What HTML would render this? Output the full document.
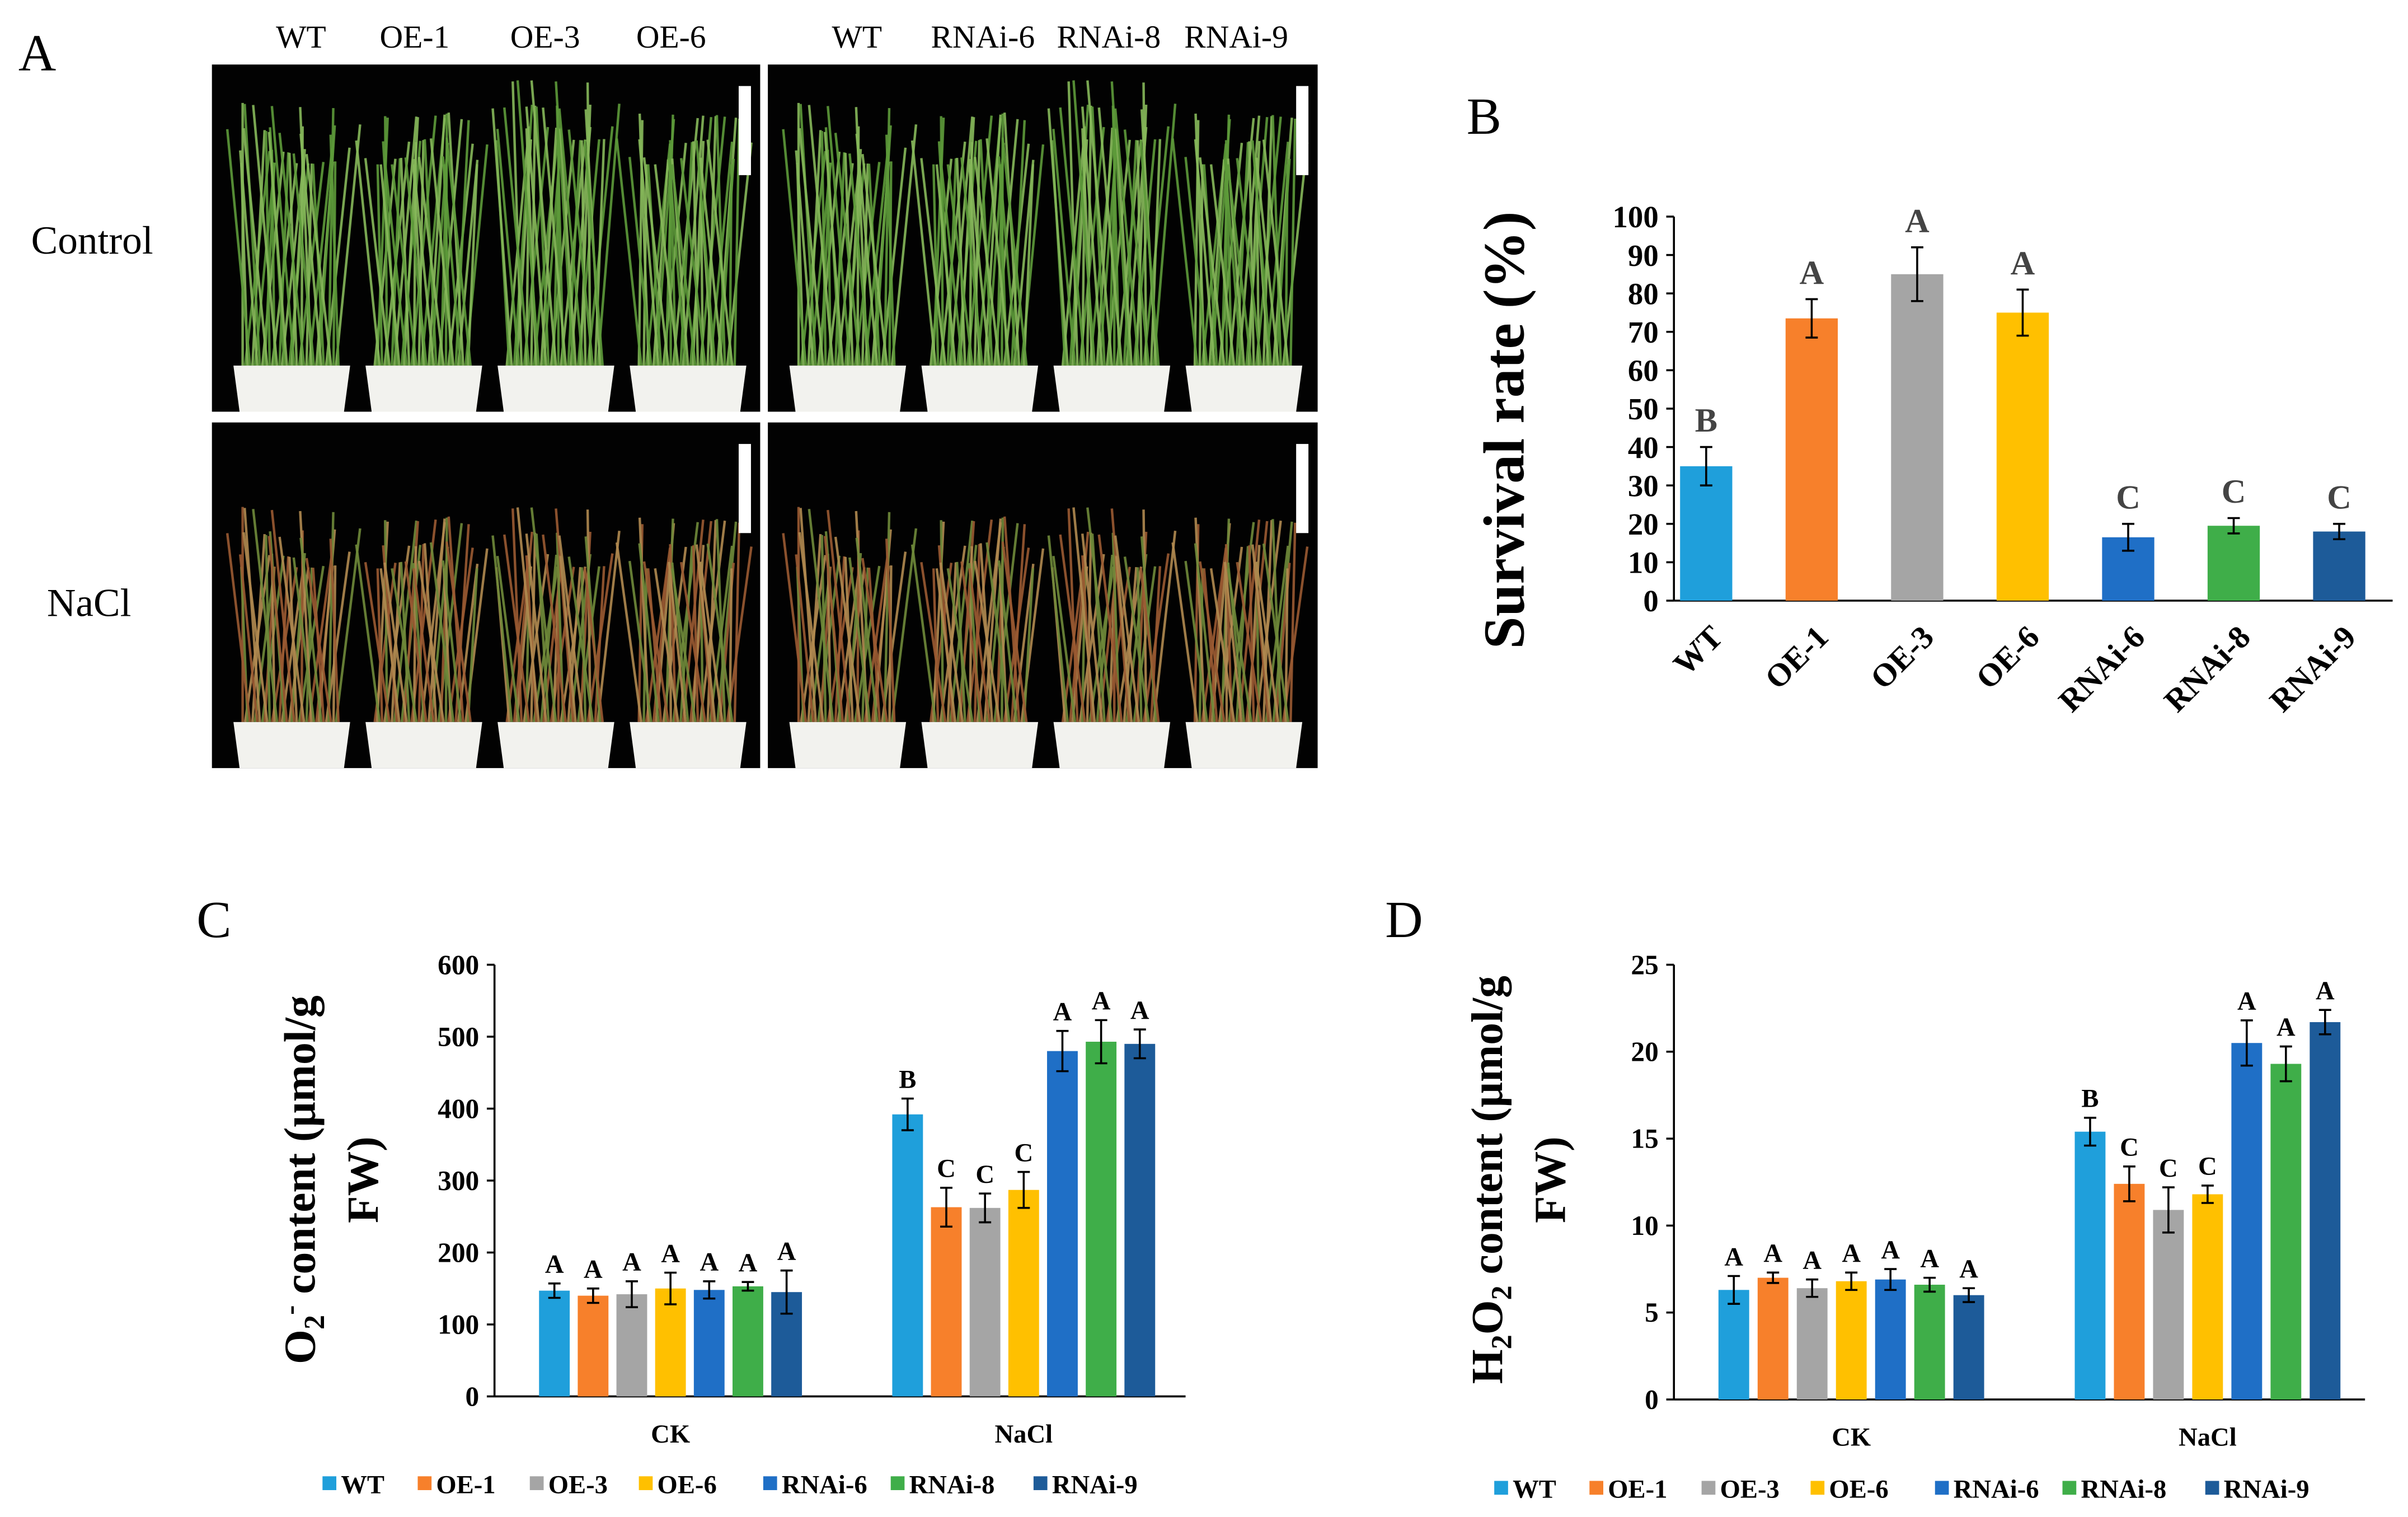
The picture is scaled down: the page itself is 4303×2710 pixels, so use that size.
<!DOCTYPE html>
<html><head><meta charset="utf-8">
<style>
html,body{margin:0;padding:0;background:#fff;}
svg{display:block;}
text{font-family:"Liberation Serif",serif;}
</style></head>
<body>
<svg id="fig" width="4303" height="2710" viewBox="0 0 1568 987.5" preserveAspectRatio="none" xmlns="http://www.w3.org/2000/svg">
<g id="panelA"></g>
<g id="panelB"></g>
<g id="panelC"></g>
<g id="panelD"></g>
</svg>
<script>
// ---- data ----
const genotypes = ["WT","OE-1","OE-3","OE-6","RNAi-6","RNAi-8","RNAi-9"];
const colors = ["#1f9fdb","#f7802b","#a5a5a5","#ffc000","#1f6fc6","#3fae49","#1d5b99"];
const survival = [35,73.5,85,75,16.5,19.5,18];
const survivalErr = [5,5,7,6,3.5,2,2];
const survivalLetters = ["B","A","A","A","C","C","C"];
const groups = ["CK","NaCl"];
const o2CK = [147,140,142,150,148,153,145];
const o2CKErr = [10,10,18,22,12,6,30];
const o2NaCl = [392,263,262,287,480,493,490];
const o2NaClErr = [22,27,20,25,28,30,20];
const o2CKLetters = ["A","A","A","A","A","A","A"];
const o2NaClLetters = ["B","C","C","C","A","A","A"];
const h2CK = [6.3,7.0,6.4,6.8,6.9,6.6,6.0];
const h2CKErr = [0.8,0.3,0.5,0.5,0.6,0.4,0.4];
const h2NaCl = [15.4,12.4,10.9,11.8,20.5,19.3,21.7];
const h2NaClErr = [0.8,1.0,1.3,0.5,1.3,1.0,0.7];
const h2CKLetters = ["A","A","A","A","A","A","A"];
const h2NaClLetters = ["B","C","C","C","A","A","A"];
const survTicks = [0,10,20,30,40,50,60,70,80,90,100];
const o2Ticks = [0,100,200,300,400,500,600];
const h2Ticks = [0,5,10,15,20,25];

const NS="http://www.w3.org/2000/svg";
function mk(parent,tag,attrs,txt){const e=document.createElementNS(NS,tag);for(const k in attrs)e.setAttribute(k,attrs[k]);if(txt!==undefined)e.textContent=txt;parent.appendChild(e);return e;}

// ---- Panel A: photos ----
const A=document.getElementById('panelA');
let t=mk(A,'text',{x:12,y:46,'font-size':34});t.textContent="A";


const colL=[["WT",196],["OE-1",270],["OE-3",355],["OE-6",437],["WT",558],["RNAi-6",640],["RNAi-8",722],["RNAi-9",805]];
colL.forEach(c=>{const e=mk(A,'text',{x:c[1],y:31,'font-size':21,'text-anchor':'middle'},c[0]);

});
t=mk(A,'text',{x:60,y:165,'font-size':26,'text-anchor':'middle'},"Control");


t=mk(A,'text',{x:58,y:401,'font-size':26,'text-anchor':'middle'},"NaCl");


const photos=[[138,42,357,226,0],[500,42,358,226,0],[138,275,357,225,1],[500,275,358,225,1]];
photos.forEach((p,pi)=>{
  const g=mk(A,'g',{});
  
  
  mk(g,'rect',{x:p[0],y:p[1],width:p[2],height:p[3],fill:'#020202'});
  const potTop=p[1]+p[3]-30, potH=30;
  for(let k=0;k<4;k++){
    const cx=p[0]+52+k*86;
    const top = p[4]? p[1]+55: p[1]+25+(k==2?-15:0);
    for(let j=0;j<40;j++){
      const x0=cx-32+j*1.6;
      const sway=Math.sin(j*1.7+k)*16;
      const h=top+Math.abs(Math.sin(j*0.9+k*2))*40;
      const col = p[4] ? (j%3==0?'#9a5a32':(j%3==1?'#b08a50':'#6f8a3a')) : (j%2?'#5d9a3a':'#86b85a');
      mk(g,'path',{d:`M${x0} ${potTop} Q${x0+sway/2} ${(h+potTop)/2} ${x0+sway} ${h}`,stroke:col,'stroke-width':1.6,fill:'none',opacity:0.9});
    }
    mk(g,'path',{d:`M${cx-38} ${potTop} L${cx+38} ${potTop} L${cx+34} ${potTop+potH} L${cx-34} ${potTop+potH} Z`,fill:'#f2f2ee'});
  }
  const sb=mk(g,'rect',{x:p[0]+p[2]-14,y:p[1]+14,width:8,height:58,fill:'#fff'});
  
  
});

function errbar(g,cx,y1,y2){
  mk(g,'line',{x1:cx,x2:cx,y1:y1,y2:y2,stroke:'#000','stroke-width':1.3});
  mk(g,'line',{x1:cx-4,x2:cx+4,y1:y1,y2:y1,stroke:'#000','stroke-width':1.3});
  mk(g,'line',{x1:cx-4,x2:cx+4,y1:y2,y2:y2,stroke:'#000','stroke-width':1.3});
}

// ---- Panel B ----
const B=document.getElementById('panelB');
t=mk(B,'text',{x:955,y:87,'font-size':34},"B");


const bY0=391,bY1=141,bMax=100;
const by=v=>bY0-(v/bMax)*(bY0-bY1);
const bx=i=>1111+i*68.7;
mk(B,'line',{x1:1090,x2:1090,y1:bY1,y2:bY0,stroke:'#000','stroke-width':1.3});
mk(B,'line',{x1:1090,x2:1558,y1:bY0,y2:bY0,stroke:'#000','stroke-width':1.3});
survTicks.forEach(v=>{
  mk(B,'line',{x1:1085,x2:1090,y1:by(v),y2:by(v),stroke:'#000','stroke-width':1.3});
  const e=mk(B,'text',{x:1080,y:by(v)+7,'font-size':20,'font-weight':'bold','text-anchor':'end'},v);
  
  
});
survival.forEach((v,i)=>{
  const r=mk(B,'rect',{x:bx(i)-17,y:by(v),width:34,height:bY0-by(v),fill:colors[i]});
  
  
  errbar(B,bx(i),by(v+survivalErr[i]),by(v-survivalErr[i]));
  const l=mk(B,'text',{x:bx(i),y:by(v+survivalErr[i])-10,'font-size':22,'font-weight':'bold','text-anchor':'middle',fill:'#444'},survivalLetters[i]);
  
  
  const x=mk(B,'text',{x:bx(i)+12,y:416,'font-size':21,'font-weight':'bold','text-anchor':'end',transform:`rotate(-45 ${bx(i)+12} 416)`},genotypes[i]);
  
  
});
t=mk(B,'text',{x:992,y:280,'font-size':38,'font-weight':'bold','text-anchor':'middle',transform:'rotate(-90 992 280)'},"Survival rate (%)");



function grouped(G,opt){
  const y=v=>opt.y0-(v/opt.max)*(opt.y0-opt.y1);
  mk(G,'line',{x1:opt.ax,x2:opt.ax,y1:opt.y1,y2:opt.y0,stroke:'#000','stroke-width':1.3});
  mk(G,'line',{x1:opt.ax,x2:opt.axEnd,y1:opt.y0,y2:opt.y0,stroke:'#000','stroke-width':1.3});
  opt.ticks.forEach(v=>{
    mk(G,'line',{x1:opt.ax-5,x2:opt.ax,y1:y(v),y2:y(v),stroke:'#000','stroke-width':1.3});
    const e=mk(G,'text',{x:opt.ax-10,y:y(v)+6,'font-size':18,'font-weight':'bold','text-anchor':'end'},v);
    
    
  });
  [[opt.ck,opt.ckErr,opt.ckL],[opt.na,opt.naErr,opt.naL]].forEach((s,gi)=>{
    const start=opt.gx[gi];
    s[0].forEach((v,i)=>{
      const cx=start+i*opt.step;
      const r=mk(G,'rect',{x:cx-10,y:y(v),width:20,height:opt.y0-y(v),fill:colors[i]});
      
      
      errbar(G,cx,y(v+s[1][i]),y(v-s[1][i]));
      const l=mk(G,'text',{x:cx,y:y(v+s[1][i])-7,'font-size':17,'font-weight':'bold','text-anchor':'middle'},s[2][i]);
      
      
    });
    const gl=mk(G,'text',{x:start+3*opt.step,y:opt.y0+30,'font-size':17,'font-weight':'bold','text-anchor':'middle'},groups[gi]);
    
    
  });
  const lg=mk(G,'g',{});
  
  
  genotypes.forEach((n,i)=>{
    const lx=opt.lx[i];
    const e=mk(lg,'g',{});
    
    
    mk(e,'rect',{x:lx,y:opt.ly-6,width:9,height:9,fill:colors[i]});
    mk(e,'text',{x:lx+12,y:opt.ly+5,'font-size':17,'font-weight':'bold'},n);
  });
}
const C=document.getElementById('panelC');
t=mk(C,'text',{x:128,y:610,'font-size':34},"C");


grouped(C,{y0:909,y1:628,max:600,ax:322,axEnd:772,ticks:o2Ticks,gx:[361,591],step:25.2,
  ck:o2CK,ckErr:o2CKErr,ckL:o2CKLetters,na:o2NaCl,naErr:o2NaClErr,naL:o2NaClLetters,
  lx:[210,272,345,416,497,580,673],ly:967});
t=mk(C,'text',{x:205,y:768,'font-size':29,'font-weight':'bold','text-anchor':'middle',transform:'rotate(-90 205 768)'});
t.innerHTML='O<tspan font-size="19" dy="6">2</tspan><tspan font-size="19" dy="-16">-</tspan><tspan dy="10"> content  (μmol/g</tspan>';


t=mk(C,'text',{x:246,y:768,'font-size':29,'font-weight':'bold','text-anchor':'middle',transform:'rotate(-90 246 768)'},"FW)");



const D=document.getElementById('panelD');
t=mk(D,'text',{x:902,y:610,'font-size':34},"D");


grouped(D,{y0:911,y1:628,max:25,ax:1090,axEnd:1540,ticks:h2Ticks,gx:[1129,1361],step:25.5,
  ck:h2CK,ckErr:h2CKErr,ckL:h2CKLetters,na:h2NaCl,naErr:h2NaClErr,naL:h2NaClLetters,
  lx:[973,1035,1108,1179,1260,1343,1436],ly:970});
t=mk(D,'text',{x:978,y:768,'font-size':29,'font-weight':'bold','text-anchor':'middle',transform:'rotate(-90 978 768)'});
t.innerHTML='H<tspan font-size="19" dy="6">2</tspan><tspan dy="-6">O</tspan><tspan font-size="19" dy="6">2</tspan><tspan dy="-6"> content  (μmol/g</tspan>';


t=mk(D,'text',{x:1019,y:768,'font-size':29,'font-weight':'bold','text-anchor':'middle',transform:'rotate(-90 1019 768)'},"FW)");


</script>
</body></html>
